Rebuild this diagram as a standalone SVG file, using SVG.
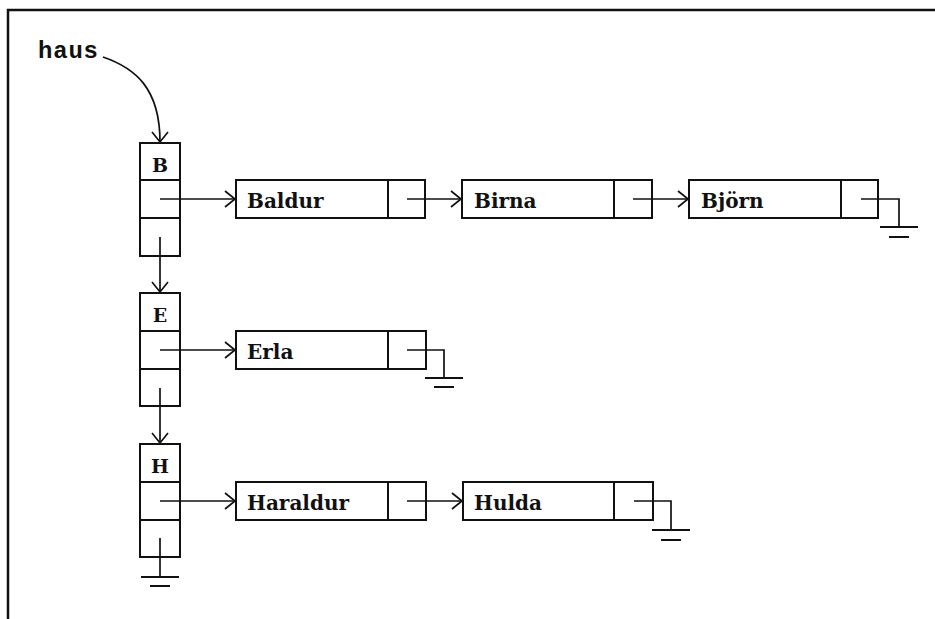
<svg xmlns="http://www.w3.org/2000/svg" width="935" height="619" viewBox="0 0 935 619">
<style>
.box{fill:#fff;stroke:#111;stroke-width:2}
.div{stroke:#111;stroke-width:2}
.lbl{font-family:"DejaVu Serif","Liberation Serif",serif;font-weight:bold;font-size:20px;fill:#111}
.key{font-family:"DejaVu Serif","Liberation Serif",serif;font-weight:bold;font-size:19px;fill:#111}
.con{fill:none;stroke:#111;stroke-width:1.7}
.gnd{fill:none;stroke:#111;stroke-width:2}
</style>
<defs>
<marker id="arr" markerUnits="userSpaceOnUse" markerWidth="14" markerHeight="18" refX="11" refY="9" orient="auto">
<path d="M1,1 L11,9 L1,17" fill="none" stroke="#111" stroke-width="1.7"/>
</marker>
</defs>
<rect x="0" y="0" width="935" height="619" fill="#fff"/>
<path d="M8,619 L8,10 L935,10" fill="none" stroke="#111" stroke-width="2.5"/>
<text x="38" y="58" font-family="Liberation Mono,monospace" font-weight="bold" font-size="24" fill="#111" textLength="60">haus</text>

<g id="idx-B">
<rect class="box" x="140" y="143" width="40" height="113"/>
<line class="div" x1="140" y1="180" x2="180" y2="180"/>
<line class="div" x1="140" y1="218" x2="180" y2="218"/>
<text class="key" x="160" y="172" text-anchor="middle">B</text>
</g>
<g id="idx-E">
<rect class="box" x="140" y="293" width="40" height="113"/>
<line class="div" x1="140" y1="331" x2="180" y2="331"/>
<line class="div" x1="140" y1="369" x2="180" y2="369"/>
<text class="key" x="160" y="322" text-anchor="middle">E</text>
</g>
<g id="idx-H">
<rect class="box" x="140" y="444" width="40" height="113"/>
<line class="div" x1="140" y1="482" x2="180" y2="482"/>
<line class="div" x1="140" y1="520" x2="180" y2="520"/>
<text class="key" x="160" y="473" text-anchor="middle">H</text>
</g>

<g id="n-Baldur">
<rect class="box" x="236" y="180" width="189" height="38"/>
<line class="div" x1="388" y1="180" x2="388" y2="218"/>
<text class="lbl" x="247" y="208">Baldur</text>
</g>
<g id="n-Birna">
<rect class="box" x="462" y="180" width="190" height="38"/>
<line class="div" x1="614" y1="180" x2="614" y2="218"/>
<text class="lbl" x="474" y="208">Birna</text>
</g>
<g id="n-Bjorn">
<rect class="box" x="689" y="180" width="189" height="38"/>
<line class="div" x1="841" y1="180" x2="841" y2="218"/>
<text class="lbl" x="701" y="208">Björn</text>
</g>
<g id="n-Erla">
<rect class="box" x="236" y="331" width="190" height="38"/>
<line class="div" x1="388" y1="331" x2="388" y2="369"/>
<text class="lbl" x="247" y="359">Erla</text>
</g>
<g id="n-Haraldur">
<rect class="box" x="236" y="482" width="190" height="38"/>
<line class="div" x1="388" y1="482" x2="388" y2="520"/>
<text class="lbl" x="247" y="510">Haraldur</text>
</g>
<g id="n-Hulda">
<rect class="box" x="463" y="482" width="190" height="38"/>
<line class="div" x1="614" y1="482" x2="614" y2="520"/>
<text class="lbl" x="474" y="510">Hulda</text>
</g>

<g id="connectors">
<path class="con" d="M103,57 C135,68 160,88 160,142" marker-end="url(#arr)"/>
<line class="con" x1="160" y1="199" x2="235" y2="199" marker-end="url(#arr)"/>
<line class="con" x1="407" y1="199" x2="461" y2="199" marker-end="url(#arr)"/>
<line class="con" x1="633" y1="199" x2="688" y2="199" marker-end="url(#arr)"/>
<line class="con" x1="160" y1="237" x2="160" y2="292" marker-end="url(#arr)"/>
<line class="con" x1="160" y1="350" x2="235" y2="350" marker-end="url(#arr)"/>
<line class="con" x1="160" y1="388" x2="160" y2="443" marker-end="url(#arr)"/>
<line class="con" x1="160" y1="501" x2="235" y2="501" marker-end="url(#arr)"/>
<line class="con" x1="407" y1="501" x2="462" y2="501" marker-end="url(#arr)"/>
<g id="ground-Bjorn">
<path class="con" d="M861,199 L899,199 L899,227"/>
<line class="gnd" x1="880" y1="227" x2="918" y2="227"/>
<line class="gnd" x1="889" y1="237" x2="909" y2="237"/>
</g>
<g id="ground-Erla">
<path class="con" d="M407,350 L444,350 L444,378"/>
<line class="gnd" x1="425" y1="378" x2="463" y2="378"/>
<line class="gnd" x1="434" y1="387" x2="454" y2="387"/>
</g>
<g id="ground-Hulda">
<path class="con" d="M634,501 L671,501 L671,530"/>
<line class="gnd" x1="652" y1="530" x2="690" y2="530"/>
<line class="gnd" x1="661" y1="540" x2="681" y2="540"/>
</g>
<g id="ground-H">
<path class="con" d="M160,538 L160,577"/>
<line class="gnd" x1="141" y1="577" x2="179" y2="577"/>
<line class="gnd" x1="150" y1="586" x2="170" y2="586"/>
</g>
</g>
</svg>
